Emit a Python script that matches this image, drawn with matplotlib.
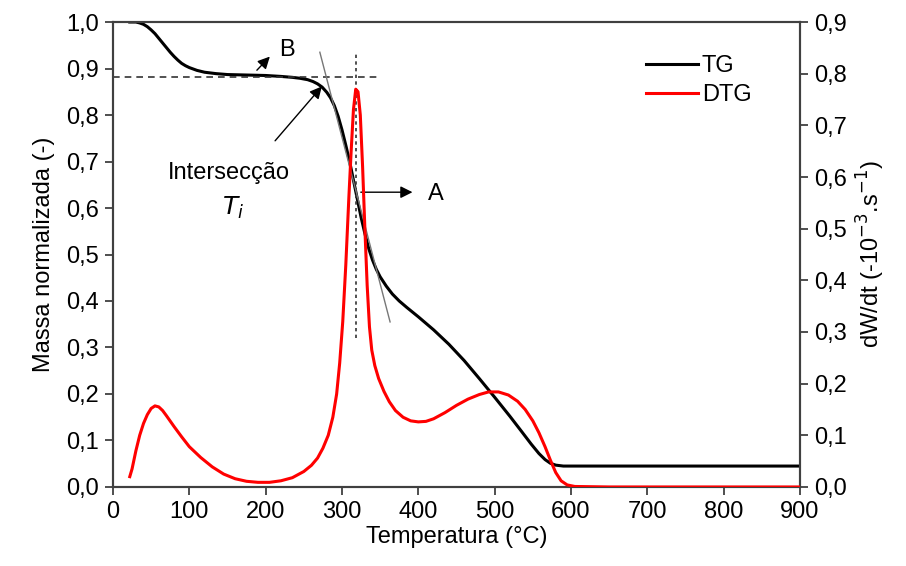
import matplotlib
matplotlib.use("Agg")
from matplotlib import pyplot as plt
from matplotlib.ticker import FuncFormatter

plt.rcParams['font.family'] = ['Liberation Sans Narrow', 'Liberation Sans', 'DejaVu Sans']

# TG curve (normalised mass)
tg_temp = [22, 30, 35, 40, 45, 50, 55, 60, 65, 70, 75, 80, 85, 90, 95, 100, 110, 120,
           135, 150, 175, 200, 220, 235, 245, 255, 262, 268, 274, 280, 285, 290, 295,
           300, 305, 310, 315, 320, 325, 330, 335, 340, 345, 350, 358, 366, 375, 385,
           400, 420, 440, 460, 480, 500, 520, 535, 548, 558, 566, 573, 580, 590, 600,
           700, 800, 900]
tg_mass = [1.0, 1.0, 0.998, 0.995, 0.99, 0.983, 0.975, 0.965, 0.955, 0.945, 0.935,
           0.926, 0.918, 0.911, 0.906, 0.902, 0.896, 0.892, 0.889, 0.887, 0.886, 0.885,
           0.883, 0.881, 0.879, 0.876, 0.872, 0.867, 0.86, 0.849, 0.837, 0.82, 0.797,
           0.768, 0.735, 0.7, 0.66, 0.62, 0.58, 0.545, 0.513, 0.488, 0.468, 0.452, 0.432,
           0.415, 0.4, 0.386, 0.366, 0.338, 0.307, 0.272, 0.233, 0.193, 0.152, 0.12,
           0.092, 0.072, 0.059, 0.051, 0.047, 0.045, 0.045, 0.045, 0.045, 0.045]

# DTG curve
dtg_temp = [22, 25, 30, 35, 40, 45, 50, 55, 60, 65, 70, 80, 90, 100, 115, 130, 145, 160,
            175, 190, 205, 220, 235, 250, 260, 268, 275, 282, 288, 293, 297, 301, 305,
            309, 312, 315, 318, 321, 324, 327, 330, 333, 336, 339, 343, 348, 355, 362,
            370, 380, 390, 400, 410, 420, 435, 450, 465, 480, 492, 505, 518, 530, 540,
            550, 558, 566, 573, 580, 587, 595, 605, 650, 700, 800, 900]
dtg_rate = [0.02, 0.035, 0.07, 0.1, 0.123, 0.14, 0.152, 0.157, 0.155, 0.148, 0.138, 0.117,
            0.097, 0.078, 0.057, 0.039, 0.025, 0.016, 0.011, 0.009, 0.009, 0.012, 0.018,
            0.03, 0.042, 0.056, 0.075, 0.1, 0.135, 0.18, 0.24, 0.32, 0.43, 0.56, 0.65,
            0.73, 0.77, 0.765, 0.72, 0.62, 0.5, 0.39, 0.31, 0.265, 0.235, 0.21, 0.185,
            0.165, 0.148, 0.135, 0.128, 0.126, 0.127, 0.132, 0.144, 0.158, 0.17, 0.179,
            0.184, 0.184, 0.178, 0.166, 0.15, 0.128, 0.105, 0.078, 0.052, 0.028, 0.012,
            0.004, 0.001, 0.0, 0.0, 0.0, 0.0]

x_ticks = list(range(0, 901, 100))
left_ticks = [i / 10 for i in range(11)]
right_ticks = [i / 10 for i in range(10)]

comma = FuncFormatter(lambda v, p: f"{v:.1f}".replace('.', ','))
spine_col = '#404040'

fig = plt.figure(figsize=(9.06, 5.66), dpi=100)
ax = fig.add_axes([0.1247, 0.1396, 0.7583, 0.8215])
ax2 = ax.twinx()

line_tg, = ax.plot(tg_temp, tg_mass, color='black', lw=2.2, label='TG', zorder=4)
line_dtg, = ax2.plot(dtg_temp, dtg_rate, color='#ff0000', lw=2.2, label='DTG', zorder=3)

ax.set_xlim(0, 900)
ax.set_ylim(0, 1.0)
ax2.set_ylim(0, 0.9)
ax.set_xticks(x_ticks)
ax.set_yticks(left_ticks)
ax2.set_yticks(right_ticks)
ax.yaxis.set_major_formatter(comma)
ax2.yaxis.set_major_formatter(comma)

for a in (ax, ax2):
    a.tick_params(direction='out', length=6, width=1.3, color=spine_col,
                  labelsize=17, pad=4)
    for s in a.spines.values():
        s.set_color(spine_col)
        s.set_linewidth(1.5)

ax.set_xlabel('Temperatura (°C)', fontsize=17, labelpad=2)
ax.set_ylabel('Massa normalizada (-)', fontsize=17, labelpad=8)
ax2.set_ylabel(r'dW/dt (-10$^{-3}$.s$^{-1}$)', fontsize=17, labelpad=6)

# construction lines
ax.plot([0, 350], [0.882, 0.882], ls=(0, (4, 3)), color='#333333', lw=1.2, zorder=5)
ax.plot([318, 318], [0.32, 0.935], ls=(0, (2, 2)), color='#333333', lw=1.2, zorder=5)
ax.plot([271, 363], [0.935, 0.355], color='#777777', lw=1.0, zorder=5)

arrow = dict(arrowstyle='-|>', color='black', lw=1.0, mutation_scale=18)
ax.annotate('', xy=(208, 0.93), xytext=(186, 0.892), arrowprops=arrow, zorder=6)
ax.text(218, 0.94, 'B', fontsize=17, va='center', ha='left')
ax.annotate('', xy=(276, 0.866), xytext=(210, 0.74), arrowprops=arrow, zorder=6)
ax.text(152, 0.675, 'Intersecção', fontsize=17, va='center', ha='center')
ax.text(157, 0.6, r'$T_i$', fontsize=18, va='center', ha='center')
ax.annotate('', xy=(396, 0.634), xytext=(321, 0.634), arrowprops=arrow, zorder=6)
ax.text(412, 0.63, 'A', fontsize=17, va='center', ha='left')

ax.legend(handles=[line_tg, line_dtg], loc='upper right', bbox_to_anchor=(0.96, 0.975),
          frameon=False, fontsize=17, handlelength=2.2, handletextpad=0.15,
          labelspacing=0.3)

fig.savefig('out.png', dpi=100)
